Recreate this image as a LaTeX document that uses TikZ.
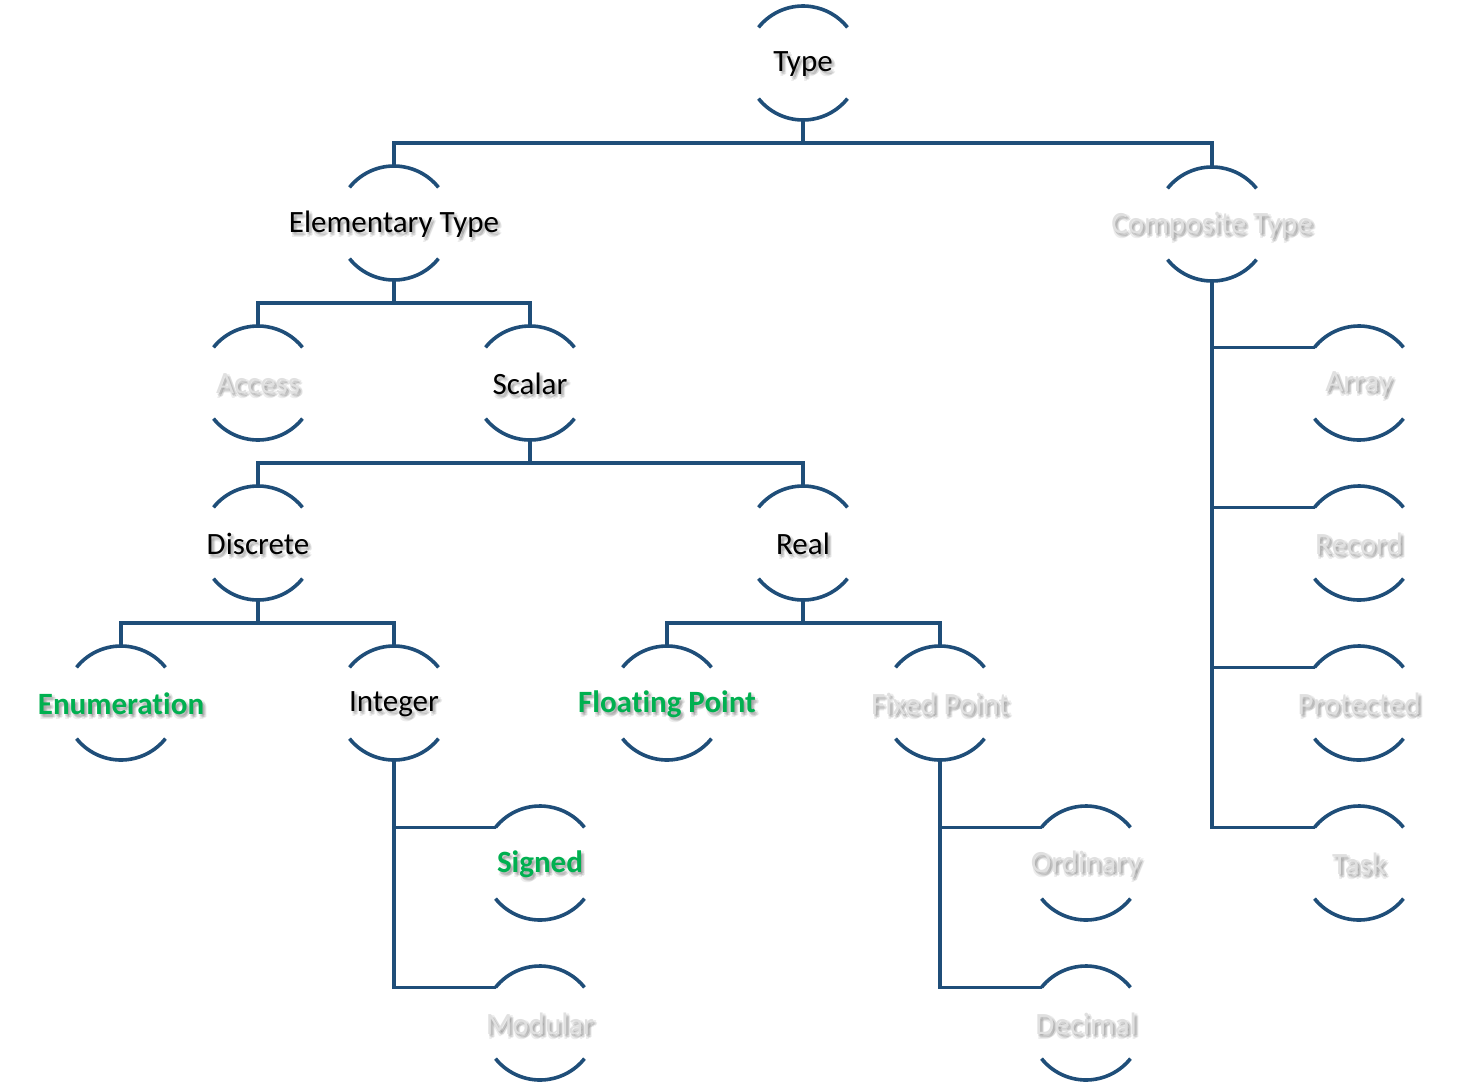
\documentclass[tikz,border=0pt]{standalone}
\usepackage{fontspec}
\setmainfont{Carlito}[Ligatures={NoCommon}]
\usetikzlibrary{calc}

\definecolor{linkblue}{RGB}{31,78,121}
\definecolor{leafgreen}{RGB}{0,176,80}
\definecolor{dimgray}{RGB}{224,224,224}

\tikzset{
  conn/.style={draw=linkblue, line width=3.6pt},
  lbl/.style={font=\fontsize{31}{36}\selectfont, inner sep=0pt},
  plain/.style={lbl, text=black},
  hit/.style={lbl, text=leafgreen, font=\fontsize{31}{36}\selectfont\bfseries},
  faded/.style={lbl, text=dimgray},
}

% A type node: soft drop shadow, label, and the two arcs above and below it
% #1 name, #2 x, #3 y (measured downwards), #4 label style, #5 label
\newcommand\typenode[5]{%
  \foreach \dx/\dy [count=\k] in {1/-2, 3/-4, 3/-1, 1/-5, 2/-3, 4/-3} {
    \node[#4, text=black, text opacity=0.07] (#1-sh\k) at (#2+\dx, -#3-1+\dy) {#5};
  }
  \node[#4] (#1) at (#2,-#3-1) {#5};
  \draw[conn] ($(#1.center)+(0,1)+(141.3:57pt)$) arc[start angle=141.3, end angle=38.7, radius=57pt];
  \draw[conn] ($(#1.center)+(0,1)+(218.7:57pt)$) arc[start angle=218.7, end angle=321.3, radius=57pt];
  \coordinate (#1-top) at ($(#1.center)+(0,58)$);
  \coordinate (#1-bot) at ($(#1.center)+(0,-56)$);
  \coordinate (#1-tl) at ($(#1.center)+(0,1)+(141.3:57pt)$);
}

\begin{document}
\begin{tikzpicture}[x=1pt, y=1pt]
  \fill[white] (0,0) rectangle (1481,-1087);
  \useasboundingbox (0,0) rectangle (1481,-1087);

  \typenode{type}{803}{63}{plain}{Type}
  \typenode{elem}{394}{223}{plain}{Elementary Type}
  \typenode{comp}{1212}{224}{faded}{Composite Type}
  \typenode{access}{258}{383}{faded}{Access}
  \typenode{scalar}{530}{383}{plain}{Scalar}
  \typenode{discrete}{258}{543}{plain}{Discrete}
  \typenode{real}{803}{543}{plain}{Real}
  \typenode{enum}{121}{703}{hit}{Enumeration}
  \typenode{integer}{394}{703}{plain}{Integer}
  \typenode{float}{667}{703}{hit}{Floating Point}
  \typenode{fixed}{940}{703}{faded}{Fixed Point}
  \typenode{signed}{540}{863}{hit}{Signed}
  \typenode{modular}{540}{1023}{faded}{Modular}
  \typenode{ordinary}{1086}{863}{faded}{Ordinary}
  \typenode{decimal}{1086}{1023}{faded}{Decimal}
  \typenode{array}{1359}{383}{faded}{Array}
  \typenode{record}{1359}{543}{faded}{Record}
  \typenode{protected}{1359}{703}{faded}{Protected}
  \typenode{task}{1359}{863}{faded}{Task}

  % tree branches
  \draw[conn] (type-bot) -- ++(0,-23) -| (elem-top);
  \draw[conn] (type-bot) -- ++(0,-23) -| (comp-top);
  \draw[conn] (elem-bot) -- ++(0,-23) -| (access-top);
  \draw[conn] (elem-bot) -- ++(0,-23) -| (scalar-top);
  \draw[conn] (scalar-bot) -- ++(0,-23) -| (discrete-top);
  \draw[conn] (scalar-bot) -- ++(0,-23) -| (real-top);
  \draw[conn] (discrete-bot) -- ++(0,-23) -| (enum-top);
  \draw[conn] (discrete-bot) -- ++(0,-23) -| (integer-top);
  \draw[conn] (real-bot) -- ++(0,-23) -| (float-top);
  \draw[conn] (real-bot) -- ++(0,-23) -| (fixed-top);

  % side branches
  \draw[conn] (integer-bot) |- (signed-tl);
  \draw[conn] (integer-bot) |- (modular-tl);
  \draw[conn] (fixed-bot) |- (ordinary-tl);
  \draw[conn] (fixed-bot) |- (decimal-tl);
  \draw[conn] (comp-bot) |- (array-tl);
  \draw[conn] (comp-bot) |- (record-tl);
  \draw[conn] (comp-bot) |- (protected-tl);
  \draw[conn] (comp-bot) |- (task-tl);
\end{tikzpicture}
\end{document}
